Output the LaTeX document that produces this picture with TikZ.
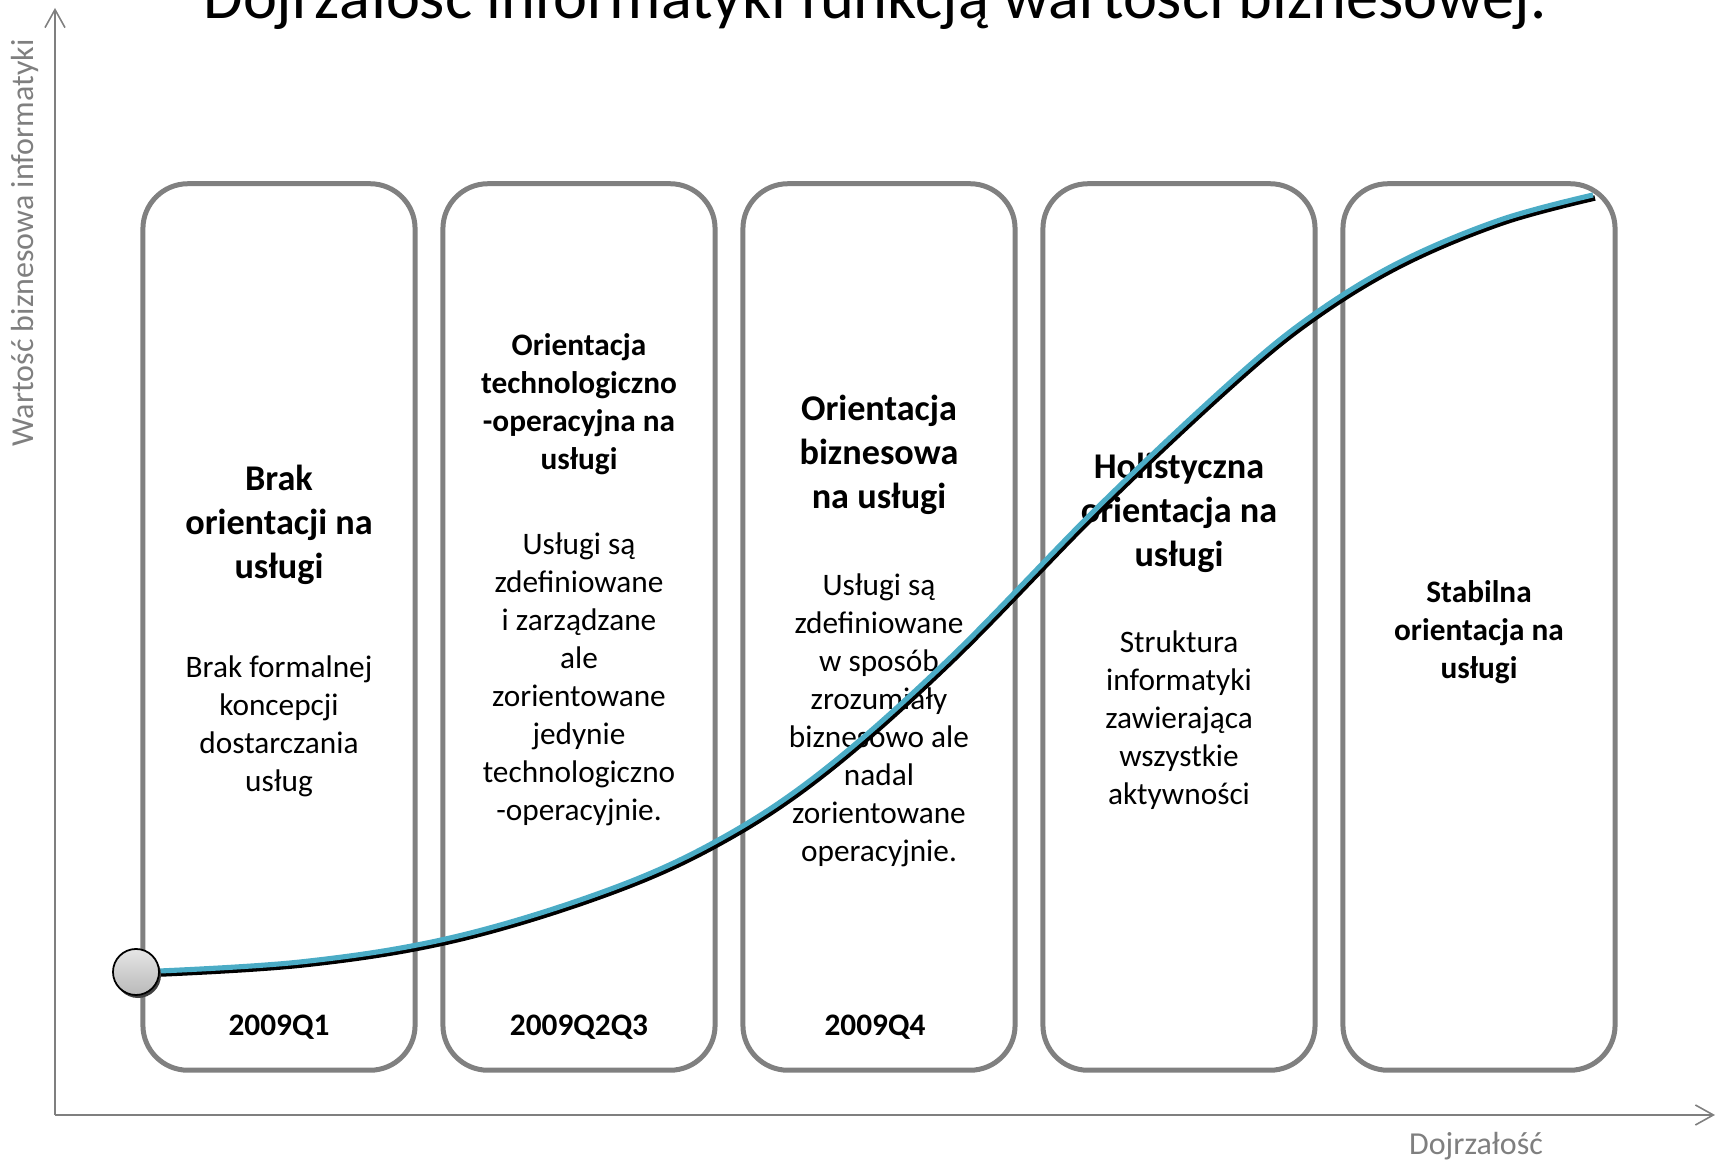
\documentclass[tikz,border=0pt]{standalone}
\usepackage{fontspec}
\setmainfont{Carlito}
\usetikzlibrary{arrows.meta,positioning}

\definecolor{boxgray}{HTML}{808080}
\definecolor{axisgray}{HTML}{7F7F7F}
\definecolor{curveblue}{HTML}{4BACC6}

\tikzset{
  stage/.style={draw=boxgray, line width=1.42pt, rounded corners=0.45cm,
    minimum width=2.72cm, minimum height=8.86cm},
  bighead/.style={align=center, font=\fontsize{10.3}{12.5}\selectfont\bfseries},
  head/.style={align=center, font=\fontsize{8.9}{10.8}\selectfont\bfseries},
  body/.style={align=center, font=\fontsize{8.9}{10.8}\selectfont},
  quarter/.style={font=\fontsize{8.9}{10.8}\selectfont\bfseries},
  axis/.style={draw=axisgray, line width=0.45pt, -{Straight Barb[length=0.18cm, width=0.2cm]}},
  axislabel/.style={text=axisgray, font=\fontsize{9.1}{11}\selectfont},
  startdot/.style={circle, draw=black, line width=0.5pt, inner sep=0pt, minimum size=0.46cm,
    top color=gray!20, bottom color=gray!55,
    preaction={fill=black!75, transform canvas={shift={(0.02cm,-0.03cm)}}}}
}

\begin{document}
\begin{tikzpicture}[x=0.01cm, y=-0.01cm]
  \useasboundingbox (0,0) rectangle (1717,1171);
  \clip (0,0) rectangle (1717,1171);

  % title (cut at the top edge)
  \node[font=\fontsize{18.3}{22}\selectfont, anchor=base] (title) at (875,19)
    {Dojrzałość informatyki funkcją wartości biznesowej.};

  % axes
  \coordinate (origin) at (55,1115);
  \coordinate (ytip) at (55,8);
  \coordinate (xtip) at (1715,1115);
  \draw[axis] (origin) -- (ytip);
  \draw[axis] (origin) -- (xtip);
  \node[axislabel] (xlab) at (1476,1146) {Dojrzałość};
  \node[axislabel, rotate=90] (ylab) at (25,243) {Wartość biznesowa informatyki};

  % stages
  \node[stage] (s1) at (279,627) {};
  \node[stage] (s2) at (579,627) {};
  \node[stage] (s3) at (879,627) {};
  \node[stage] (s4) at (1179,627) {};
  \node[stage] (s5) at (1479,627) {};

  \node[bighead] (h1) at (279,525) {Brak\\orientacji na\\usługi};
  \node[body] (b1) at (279,726) {Brak formalnej\\koncepcji\\dostarczania\\usług};
  \node[quarter] (q1) at (279,1027) {2009Q1};

  \node[head] (h2) at (579,404) {Orientacja\\technologiczno\\-operacyjna na\\usługi};
  \node[body] (b2) at (579,679) {Usługi są\\zdefiniowane\\i zarządzane\\ale\\zorientowane\\jedynie\\technologiczno\\-operacyjnie.};
  \node[quarter] (q2) at (579,1027) {2009Q2Q3};

  \node[bighead] (h3) at (879,455) {Orientacja\\biznesowa\\na usługi};
  \node[body] (b3) at (879,720) {Usługi są\\zdefiniowane\\w sposób\\zrozumiały\\biznesowo ale\\nadal\\zorientowane\\operacyjnie.};
  \node[quarter] (q3) at (875,1027) {2009Q4};

  \node[bighead] (h4) at (1179,513) {Holistyczna\\orientacja na\\usługi};
  \node[body] (b4) at (1179,720) {Struktura\\informatyki\\zawierająca\\wszystkie\\aktywności};

  \node[head] (h5) at (1479,632) {Stabilna\\orientacja na\\usługi};

  % maturity curve
  \coordinate (top) at (1593,195);
  \draw[curveblue, line width=1.45pt,
    preaction={draw=black, line width=1.55pt, transform canvas={shift={(0.02cm,-0.03cm)}}}]
    plot[smooth, tension=0.6] coordinates {(136,972) (300,962) (450,938) (600,893) (713,843)
      (820,773) (948,660) (1100,505) (1233,380) (1313,315) (1400,262) (1500,220) (1593,195)};
  \node[startdot] (start) at (136,972) {};
\end{tikzpicture}
\end{document}
